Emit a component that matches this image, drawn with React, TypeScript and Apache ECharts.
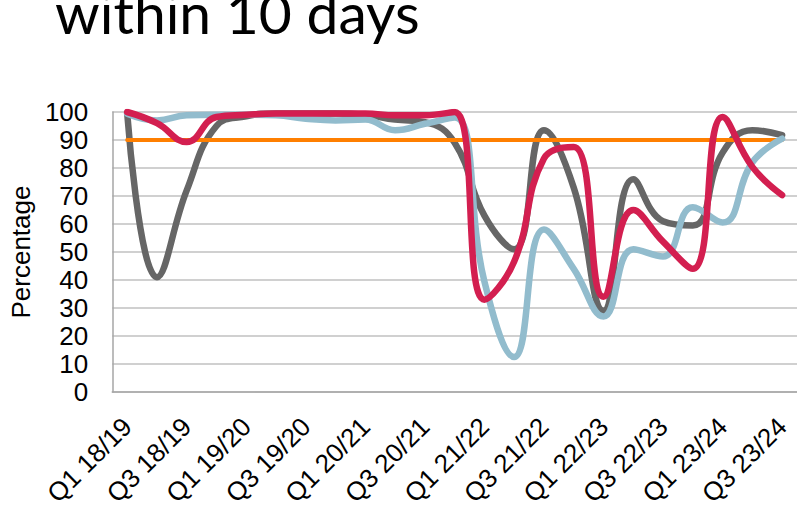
import React, { useEffect, useRef } from "react";
import * as echarts from "echarts";

const categories = [
  "Q1 18/19", "Q2 18/19", "Q3 18/19", "Q4 18/19",
  "Q1 19/20", "Q2 19/20", "Q3 19/20", "Q4 19/20",
  "Q1 20/21", "Q2 20/21", "Q3 20/21", "Q4 20/21",
  "Q1 21/22", "Q2 21/22", "Q3 21/22", "Q4 21/22",
  "Q1 22/23", "Q2 22/23", "Q3 22/23", "Q4 22/23",
  "Q1 23/24", "Q2 23/24", "Q3 23/24",
];

const grayValues = [99.6, 41, 72, 95, 98.5, 99.5, 99.5, 99.5, 99, 97.3, 96.4, 89, 63, 51, 93.5, 73, 29, 76, 61, 59.5, 85.5, 93.5, 91.7];
const blueValues = [99.4, 97, 98.8, 99, 99, 98.8, 97.6, 97, 97.3, 93.5, 95.8, 98, 39.5, 12.5, 58, 44, 27, 51, 48.4, 66, 60.5, 82, 90.5];
const redValues = [100, 96, 89.3, 98.2, 99, 99.5, 99.5, 99.5, 99.5, 98.8, 98.8, 100, 33, 46.6, 83.4, 87.5, 34, 65, 53.7, 44, 98.2, 80.4, 70.3];
const targetValues = categories.map(() => 90);

const yTicks = { min: 0, max: 100, interval: 10 };

export default function App() {
  const ref = useRef<HTMLDivElement>(null);
  useEffect(() => {
    if (!ref.current) return;
    const chart = echarts.init(ref.current, undefined, { renderer: "svg" });
    const font = "'Liberation Sans', Arial, sans-serif";
    const lineSeries = (name: string, data: number[], color: string, width: number, z: number) => ({
      name,
      type: "line",
      data,
      smooth: 0.45,
      symbol: "none",
      z,
      lineStyle: { color, width, cap: "round", join: "round" },
      itemStyle: { color },
    });
    chart.setOption({
      animation: false,
      backgroundColor: "#ffffff",
      graphic: [
        {
          type: "text",
          left: 55,
          top: -17,
          style: {
            text: "within 10 days",
            font: "57px 'Lato', 'Open Sans', sans-serif",
            fill: "#000000",
          },
        },
      ],
      grid: { left: 108, top: 112, width: 690, height: 281, containLabel: false },
      xAxis: {
        type: "category",
        data: categories,
        boundaryGap: true,
        axisLine: { lineStyle: { color: "#a6a6a6", width: 1.5 } },
        axisTick: { show: false },
        axisLabel: {
          interval: 1,
          rotate: 45,
          fontSize: 26,
          fontFamily: font,
          color: "#000000",
          margin: 30,
        },
      },
      yAxis: {
        type: "value",
        min: yTicks.min,
        max: yTicks.max,
        interval: yTicks.interval,
        name: "Percentage",
        nameLocation: "middle",
        nameGap: 78,
        nameTextStyle: { fontSize: 26, fontFamily: font, color: "#000000" },
        axisLine: { show: true, lineStyle: { color: "#a6a6a6", width: 1.5 } },
        axisTick: { show: false },
        axisLabel: { fontSize: 26, fontFamily: font, color: "#000000", margin: 24 },
        splitLine: { lineStyle: { color: "#c0c0c0", width: 1.5 } },
      },
      series: [
        lineSeries("Gray", grayValues, "#666666", 6.5, 2),
        { ...lineSeries("Target", targetValues, "#ff7f00", 4, 3), smooth: false },
        lineSeries("Blue", blueValues, "#92bccd", 6.5, 4),
        lineSeries("Red", redValues, "#d31f50", 6.5, 5),
      ],
    });
    return () => chart.dispose();
  }, []);
  return (
    <div
      ref={ref}
      style={{ position: "fixed", left: 0, top: 0, width: 797, height: 509 }}
    />
  );
}
